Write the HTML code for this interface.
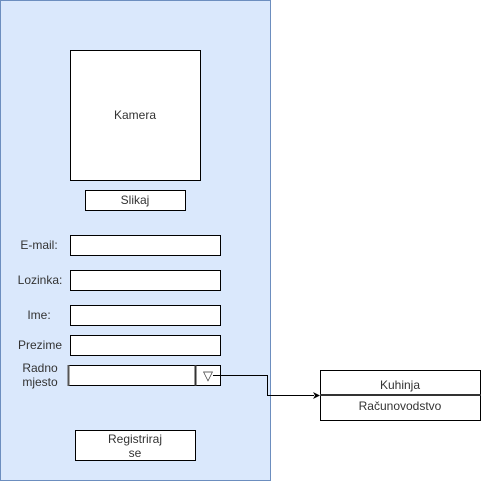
<!DOCTYPE html>
<html><head><style>html,body{margin:0;padding:0;background:#fff}svg{display:block}</style></head>
<body>
<svg width="482" height="481" xmlns="http://www.w3.org/2000/svg" font-family="Liberation Sans, Arial, sans-serif" font-size="12" fill="#333">
<rect x="0.5" y="0.5" width="270" height="480" fill="#dae8fc" stroke="#6c8ebf"/>
<rect x="70.5" y="50.5" width="130" height="130" fill="#fff" stroke="#000"/>
<text x="135" y="119" text-anchor="middle" fill="#333">Kamera</text>
<rect x="85.5" y="190.5" width="100" height="20" fill="#fff" stroke="#000"/>
<text x="135" y="204" text-anchor="middle">Slikaj</text>
<rect x="70.5" y="235.5" width="150" height="20" fill="#fff" stroke="#000"/>
<rect x="70.5" y="270.5" width="150" height="20" fill="#fff" stroke="#000"/>
<rect x="70.5" y="305.5" width="150" height="20" fill="#fff" stroke="#000"/>
<rect x="70.5" y="335.5" width="150" height="20" fill="#fff" stroke="#000"/>
<text x="39" y="249" text-anchor="middle">E-mail:</text>
<text x="40" y="284" text-anchor="middle">Lozinka:</text>
<text x="39" y="319" text-anchor="middle">Ime:</text>
<text x="40" y="349" text-anchor="middle">Prezime</text>
<text x="40" y="372" text-anchor="middle">Radno</text>
<text x="40" y="386" text-anchor="middle">mjesto</text>
<rect x="68.5" y="365.5" width="152" height="20" fill="#fff" stroke="#000"/>
<line x1="68.5" y1="365" x2="68.5" y2="386" stroke="#555" stroke-width="2"/>
<line x1="195.5" y1="365" x2="195.5" y2="386" stroke="#333" stroke-width="2"/>
<text x="208" y="380" text-anchor="middle" font-size="13">▽</text>
<rect x="75.5" y="430.5" width="120" height="30" fill="#fff" stroke="#000"/>
<text x="135" y="443" text-anchor="middle">Registriraj</text>
<text x="135" y="457" text-anchor="middle">se</text>
<rect x="320.5" y="370.5" width="160" height="50" fill="#fff" stroke="#000"/>
<line x1="320" y1="395" x2="481" y2="395" stroke="#333" stroke-width="2"/>
<text x="400" y="389" text-anchor="middle">Kuhinja</text>
<text x="400" y="410" text-anchor="middle">Računovodstvo</text>
<polyline points="213,375.5 267.5,375.5 267.5,395.5 314,395.5" fill="none" stroke="#000"/>
<polygon points="320,395.5 313,392 315,395.5 313,399" fill="#000"/>
</svg>
</body></html>
